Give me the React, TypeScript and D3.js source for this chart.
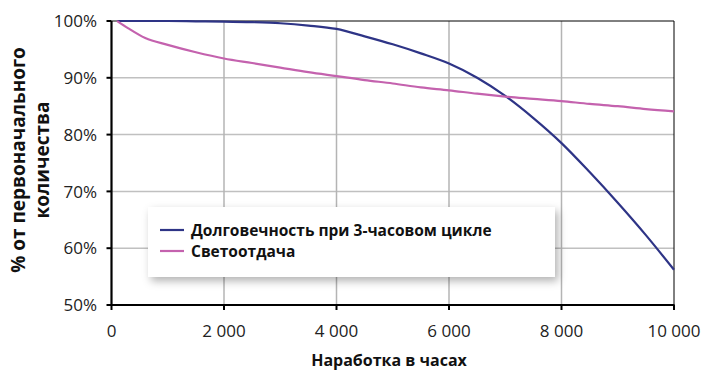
import React from "react";
import * as d3 from "d3";

const hours = [100, 300, 600, 1000, 1500, 2000, 2500, 3000, 3500, 4000, 4500, 5000, 5500, 6000, 6500, 7000, 7500, 8000, 8500, 9000, 9500, 10000];
const lifeValues = [100, 100, 100, 100, 99.95, 99.9, 99.8, 99.6, 99.2, 98.6, 97.3, 95.9, 94.3, 92.5, 90.0, 86.8, 82.9, 78.5, 73.4, 68.0, 62.3, 56.2];
const lightValues = [100, 98.7, 97.0, 95.8, 94.5, 93.4, 92.6, 91.8, 91.0, 90.3, 89.6, 89.0, 88.3, 87.8, 87.2, 86.7, 86.3, 85.9, 85.4, 85.0, 84.5, 84.1];
const xTicks = [0, 2000, 4000, 6000, 8000, 10000];
const yTicks = [50, 60, 70, 80, 90, 100];
const seriesNames = ["Долговечность при 3-часовом цикле", "Светоотдача"];
const seriesColors = ["#2e3486", "#c462ae"];
const xTitle = "Наработка в часах";
const yTitleLines = ["% от первоначального", "количества"];

const W = 705, H = 370;
const L = 111.5, R = 674, T = 21, B = 305;
const FONT = "'Open Sans', 'Noto Sans', sans-serif";

const fmt = (v: number) => (v >= 1000 ? d3.format(",")(v).replace(/,/g, " ") : String(v));

export default function App() {
  const x = d3.scaleLinear().domain([0, 10000]).range([L, R]);
  const y = d3.scaleLinear().domain([50, 100]).range([B, T]);
  const line = d3
    .line<number>()
    .x((_, i) => x(hours[i]))
    .y((d) => y(d))
    .curve(d3.curveMonotoneX);
  const series = [lifeValues, lightValues];

  return (
    <div style={{ position: "absolute", left: 0, top: 0 }}>
      <svg width={W} height={H} style={{ display: "block", fontFamily: FONT }}>
        <defs>
          <filter id="sh" x="-10%" y="-20%" width="130%" height="160%">
            <feDropShadow dx="3" dy="4" stdDeviation="4" floodColor="#000" floodOpacity="0.3" />
          </filter>
        </defs>
        <rect width={W} height={H} fill="#fff" />
        {/* grid */}
        {yTicks.filter((t) => t > 50 && t < 100).map((t) => (
          <line key={"gy" + t} x1={L} x2={R} y1={y(t)} y2={y(t)} stroke="#c0c0c0" strokeWidth={1.5} />
        ))}
        {xTicks.filter((t) => t > 0 && t < 10000).map((t) => (
          <line key={"gx" + t} x1={x(t)} x2={x(t)} y1={T} y2={B} stroke="#b4b4b4" strokeWidth={1.5} />
        ))}
        {/* frame */}
        <line x1={L} x2={R} y1={T} y2={T} stroke="#000" strokeWidth={1} />
        <line x1={R} x2={R} y1={T} y2={B} stroke="#000" strokeWidth={1} />
        {/* series */}
        {series.map((vals, i) => (
          <path key={"s" + i} d={line(vals) || ""} fill="none" stroke={seriesColors[i]} strokeWidth={2.2} />
        ))}
        {/* axes */}
        <line x1={L} x2={L} y1={T} y2={B + 1} stroke="#000" strokeWidth={2.2} />
        <line x1={L - 1} x2={R + 0.5} y1={B} y2={B} stroke="#000" strokeWidth={2.2} />
        {yTicks.map((t) => (
          <g key={"yt" + t}>
            <line x1={L - 5} x2={L} y1={y(t)} y2={y(t)} stroke="#000" strokeWidth={2} />
            <text x={97} y={y(t)} dy="0.36em" textAnchor="end" fontSize={17} fill="#222">
              {t}%
            </text>
          </g>
        ))}
        {xTicks.map((t) => (
          <g key={"xt" + t}>
            <line x1={x(t)} x2={x(t)} y1={B} y2={B + 5} stroke="#000" strokeWidth={2} />
            <text x={x(t)} y={337} textAnchor="middle" fontSize={17} fill="#222">
              {fmt(t)}
            </text>
          </g>
        ))}
        {/* titles */}
        <text x={389} y={366} textAnchor="middle" fontSize={16} fontWeight="bold" fill="#111">
          {xTitle}
        </text>
        {yTitleLines.map((s, i) => (
          <text
            key={"yl" + i}
            transform={`translate(${25 + i * 24},160) rotate(-90)`}
            textAnchor="middle"
            fontSize={19}
            fontWeight="bold"
            fill="#111"
          >
            {s}
          </text>
        ))}
        {/* legend */}
        <rect x={148} y={207} width={407} height={70} fill="#fff" filter="url(#sh)" />
        {seriesNames.map((s, i) => (
          <g key={"lg" + i}>
            <line x1={160} x2={184} y1={230 + i * 21} y2={230 + i * 21} stroke={seriesColors[i]} strokeWidth={2.2} />
            <text x={191} y={230 + i * 21} dy="0.36em" fontSize={15.5} fontWeight="bold" fill="#111">
              {s}
            </text>
          </g>
        ))}
      </svg>
    </div>
  );
}
